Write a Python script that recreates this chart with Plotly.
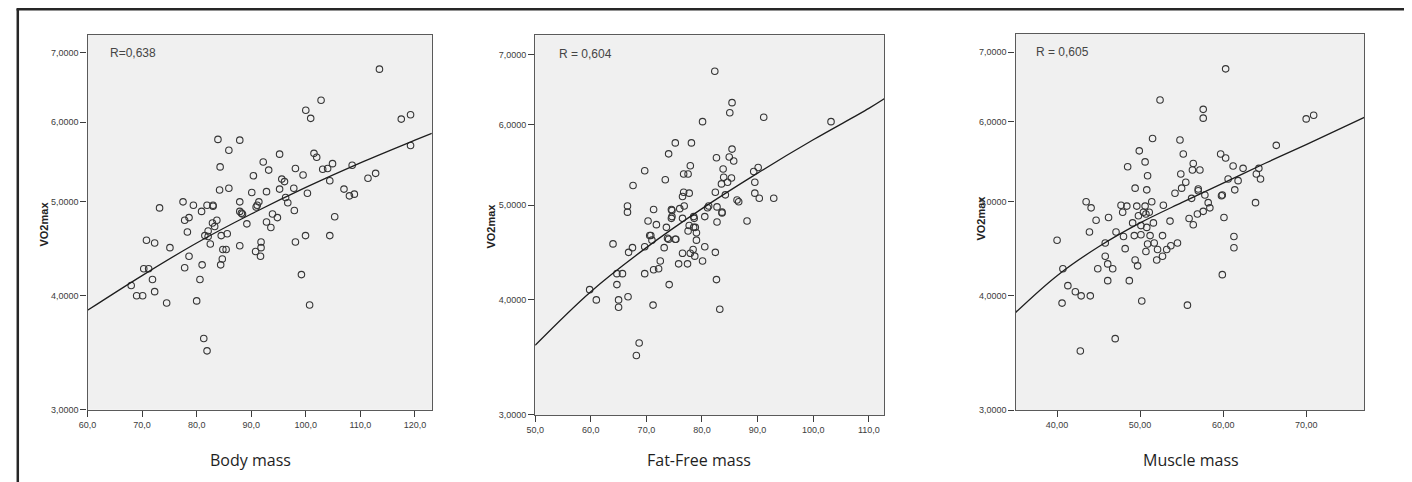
import math
import plotly.graph_objects as go

# ---------------- data ----------------
body_mass = [68.0, 69.0, 70.1, 70.3, 71.2, 70.8, 71.9, 72.3, 72.3, 73.2,
             74.5, 75.1, 77.5, 77.8, 77.8, 78.6, 78.3, 78.6, 79.4, 80.0,
             80.6, 80.9, 81.0, 81.3, 81.9, 81.5, 81.9, 82.1, 82.1, 82.5,
             83.0, 83.0, 82.9, 83.3, 83.7, 83.9, 84.3, 84.2, 84.4, 84.5,
             84.7, 85.4, 84.8, 85.6, 85.9, 85.9, 87.9, 87.9, 87.9, 88.2,
             88.4, 87.9, 89.2, 90.4, 90.1, 90.8, 90.9, 91.1, 91.4, 91.8,
             91.8, 91.7, 92.2, 92.8, 93.2, 92.8, 93.6, 93.9, 94.8, 95.2,
             95.2, 95.6, 96.1, 96.3, 96.7, 97.8, 97.9, 98.1, 98.1, 99.2,
             99.5, 100.0, 99.95, 100.3, 100.7, 100.9, 101.5, 102.0, 102.8, 103.1,
             104.0, 104.4, 104.4, 104.9, 105.3, 107.0, 108.0, 108.5, 108.9, 111.4,
             112.8, 113.5, 117.5, 119.2, 119.2]
vo2_body = [4.10, 4.00, 4.00, 4.27, 4.27, 4.57, 4.16, 4.04, 4.54, 4.93,
            3.93, 4.49, 5.00, 4.28, 4.79, 4.82, 4.66, 4.40, 4.96, 3.95,
            4.16, 4.89, 4.31, 3.60, 3.49, 4.62, 4.96, 4.67, 4.61, 4.53,
            4.96, 4.95, 4.76, 4.72, 4.79, 5.77, 5.42, 5.14, 4.31, 4.62,
            4.37, 4.47, 4.47, 4.64, 5.63, 5.16, 5.76, 5.00, 4.89, 4.87,
            4.86, 4.51, 4.75, 5.31, 5.11, 4.45, 4.94, 4.96, 5.00, 4.55,
            4.49, 4.40, 5.48, 4.77, 5.38, 5.12, 4.71, 4.86, 4.82, 5.58,
            5.15, 5.27, 5.24, 5.05, 4.99, 5.16, 4.90, 4.55, 5.40, 4.21,
            5.32, 6.16, 4.62, 5.10, 3.91, 6.05, 5.59, 5.54, 6.30, 5.39,
            5.40, 5.25, 4.62, 5.46, 4.83, 5.15, 5.07, 5.44, 5.09, 5.28,
            5.34, 6.75, 6.04, 6.10, 5.69]

fat_free_mass = [59.8, 61.0, 64.0, 64.7, 65.7, 64.7, 65.0, 65.0, 66.6, 66.6,
                 66.7, 66.8, 67.5, 67.6, 68.2, 68.7, 69.7, 69.7, 69.7, 70.3,
                 70.6, 70.8, 71.0, 71.2, 71.3, 71.3, 71.8, 72.2, 72.5, 73.2,
                 73.4, 73.6, 73.8, 74.0, 74.1, 74.0, 74.5, 74.6, 74.5, 74.6,
                 75.2, 75.2, 75.3, 75.8, 76.0, 76.5, 76.5, 76.5, 76.7, 76.7,
                 76.8, 77.5, 77.4, 77.5, 77.7, 77.7, 77.9, 78.1, 77.9, 78.5,
                 78.5, 78.6, 78.7, 78.8, 79.0, 79.0, 78.4, 80.1, 80.1, 80.5,
                 80.5, 81.0, 81.2, 82.3, 82.4, 82.4, 82.6, 82.6, 82.7, 82.7,
                 83.2, 83.6, 83.6, 83.5, 83.8, 83.9, 84.2, 84.6, 85.0, 84.9,
                 85.4, 85.4, 85.3, 85.7, 86.3, 86.6, 88.1, 89.3, 89.5, 89.5,
                 90.1, 90.3, 91.1, 92.9, 103.2]
vo2_ffm = [4.10, 4.00, 4.57, 4.26, 4.26, 4.15, 4.00, 3.93, 4.99, 4.92,
           4.03, 4.48, 4.53, 5.23, 3.49, 3.60, 5.41, 4.54, 4.26, 4.82,
           4.66, 4.66, 4.61, 3.95, 4.95, 4.30, 4.78, 4.31, 4.39, 4.53,
           5.30, 4.75, 4.63, 5.62, 4.15, 4.62, 4.95, 4.87, 4.85, 4.94,
           5.76, 4.62, 4.62, 4.36, 4.96, 4.47, 4.85, 5.10, 5.15, 5.37,
           4.99, 5.37, 4.36, 4.71, 5.14, 4.77, 5.47, 5.76, 4.47, 4.87,
           4.75, 4.85, 4.44, 4.75, 4.69, 4.61, 4.51, 6.04, 4.39, 4.54,
           4.87, 4.97, 4.99, 6.75, 5.15, 4.48, 5.57, 4.20, 4.98, 4.81,
           3.91, 4.91, 4.92, 5.25, 5.43, 5.33, 5.12, 5.27, 6.16, 5.58,
           5.68, 6.30, 5.32, 5.53, 5.06, 5.04, 4.82, 5.40, 5.27, 5.14,
           5.45, 5.08, 6.10, 5.08, 6.04]

muscle_mass = [40.0, 40.6, 40.7, 41.3, 42.2, 42.9, 42.8, 43.5, 43.9, 44.0,
               44.1, 44.7, 44.9, 45.8, 45.8, 46.1, 46.1, 46.2, 46.7, 47.0,
               47.1, 47.7, 47.9, 48.0, 48.2, 48.4, 48.5, 48.7, 49.1, 49.4,
               49.4, 49.3, 49.6, 49.7, 49.8, 49.9, 50.1, 50.1, 50.2, 50.4,
               50.6, 50.6, 50.7, 50.7, 50.8, 50.8, 50.9, 50.9, 51.1, 51.2,
               51.4, 51.5, 51.6, 51.7, 52.0, 52.1, 52.4, 52.7, 52.7, 52.8,
               53.2, 53.6, 53.7, 54.2, 54.5, 54.8, 54.9, 55.0, 55.2, 55.5,
               55.7, 55.9, 56.2, 56.3, 56.4, 56.4, 56.9, 57.0, 57.0, 57.2,
               57.6, 57.6, 57.6, 57.8, 58.2, 58.4, 59.7, 59.9, 59.8, 59.9,
               60.1, 60.3, 60.3, 60.6, 61.2, 61.3, 61.3, 61.4, 61.8, 62.4,
               63.9, 64.0, 64.3, 64.5, 66.4, 70.0, 70.9]
vo2_muscle = [4.57, 3.93, 4.27, 4.10, 4.04, 4.00, 3.49, 5.00, 4.66, 4.00,
              4.93, 4.79, 4.27, 4.54, 4.40, 4.32, 4.15, 4.82, 4.27, 3.60,
              4.66, 4.96, 4.88, 4.61, 4.48, 4.95, 5.42, 4.15, 4.76, 4.36,
              5.16, 4.62, 4.95, 4.30, 4.84, 5.62, 4.63, 4.73, 3.95, 4.88,
              5.48, 4.95, 4.45, 4.86, 5.14, 4.71, 5.31, 4.53, 4.88, 4.62,
              5.00, 5.78, 4.76, 4.54, 4.36, 4.47, 6.30, 4.62, 4.40, 4.96,
              4.47, 4.78, 4.51, 5.10, 4.54, 5.76, 5.33, 5.16, 5.58, 5.23,
              3.91, 4.81, 5.04, 5.38, 4.74, 5.46, 4.86, 5.15, 5.13, 5.38,
              6.17, 6.05, 4.89, 5.08, 4.99, 4.93, 5.58, 4.21, 5.07, 5.08,
              4.82, 6.75, 5.53, 5.27, 5.43, 4.61, 4.49, 5.14, 5.25, 5.40,
              4.99, 5.33, 5.40, 5.27, 5.69, 6.04, 6.09]

# fitted curves
fit_body_x = [60, 70, 80, 90, 100, 110, 120, 123.1]
fit_body_y = [3.86, 4.20, 4.54, 4.86, 5.17, 5.47, 5.76, 5.85]
fit_ffm_x = [50, 60, 70, 80, 90, 100, 110, 113.1]
fit_ffm_y = [3.58, 4.08, 4.53, 4.96, 5.38, 5.80, 6.22, 6.37]
fit_muscle_x = [35, 40, 45, 50, 55, 60, 65, 70, 77.0]
fit_muscle_y = [3.84, 4.20, 4.50, 4.76, 4.99, 5.22, 5.46, 5.70, 6.06]

r_labels = ["R=0,638", "R = 0,604", "R = 0,605"]
x_titles = ["Body mass", "Fat-Free mass", "Muscle mass"]
y_title = "VO2max"

y_ticks = [3, 4, 5, 6, 7]
y_ticktext = ["3,0000", "4,0000", "5,0000", "6,0000", "7,0000"]
x_ticks_body = [60, 70, 80, 90, 100, 110, 120]
x_ticktext_body = ["60,0", "70,0", "80,0", "90,0", "100,0", "110,0", "120,0"]
x_ticks_ffm = [50, 60, 70, 80, 90, 100, 110]
x_ticktext_ffm = ["50,0", "60,0", "70,0", "80,0", "90,0", "100,0", "110,0"]
x_ticks_muscle = [40, 50, 60, 70]
x_ticktext_muscle = ["40,00", "50,00", "60,00", "70,00"]

# the original y axis is a compressed (log-like) scale: log(y + 1.2)
Y_SHIFT = 1.2

# ---------------- layout helpers ----------------
# the page body has an 8px margin, so figure pixel = screen pixel - 8
OFF = 8
W, H = 1404, 474
def px(x):
    return (x - OFF) / W
def py(y):
    return 1 - (y - OFF) / H
def lg(v):
    return math.log10(v + Y_SHIFT)

panels = [
    dict(x=body_mass, y=vo2_body, fx=fit_body_x, fy=fit_body_y,
         xd=(79, 425.5), yd=(35, 414), xr=(60, 123.1), ytop=7.28,
         xt=x_ticks_body, xtt=x_ticktext_body,
         rpos=(100, 53.5), ytpos=(35, 226), xtpos=(243, 465)),
    dict(x=fat_free_mass, y=vo2_ffm, fx=fit_ffm_x, fy=fit_ffm_y,
         xd=(529.5, 881), yd=(35.5, 419.3), xr=(50, 112.8), ytop=7.30,
         xt=x_ticks_ffm, xtt=x_ticktext_ffm,
         rpos=(551, 54.5), ytpos=(485, 228), xtpos=(694, 465)),
    dict(x=muscle_mass, y=vo2_muscle, fx=fit_muscle_x, fy=fit_muscle_y,
         xd=(1013, 1364), yd=(34, 414.3), xr=(35.0, 77.0), ytop=7.29,
         xt=x_ticks_muscle, xtt=x_ticktext_muscle,
         rpos=(1032, 52.5), ytpos=(978, 220), xtpos=(1190, 465)),
]

fig = go.Figure()
annotations = []
tick_font = dict(family="Arial, Liberation Sans, sans-serif", size=9, color="#3c3c3c")

for i, p in enumerate(panels, start=1):
    xa = "x" if i == 1 else f"x{i}"
    ya = "y" if i == 1 else f"y{i}"
    fig.add_trace(go.Scatter(
        x=p["x"], y=[v + Y_SHIFT for v in p["y"]], mode="markers",
        xaxis=xa, yaxis=ya, showlegend=False, hoverinfo="skip",
        marker=dict(symbol="circle-open", size=6.5, color="#363636",
                    line=dict(width=1.1)),
    ))
    fig.add_trace(go.Scatter(
        x=p["fx"], y=[v + Y_SHIFT for v in p["fy"]], mode="lines",
        xaxis=xa, yaxis=ya, showlegend=False, hoverinfo="skip",
        line=dict(color="#1e1e1e", width=1.3, shape="spline", smoothing=1.0),
    ))
    common = dict(showgrid=False, zeroline=False, showline=True, mirror=True,
                  linecolor="#5a5a5a", linewidth=1.3, ticks="outside",
                  ticklen=6, tickwidth=1, tickcolor="#3c3c3c",
                  tickfont=tick_font)
    fig.update_layout(**{
        ("xaxis" if i == 1 else f"xaxis{i}"): dict(
            domain=[px(p["xd"][0]), px(p["xd"][1])],
            range=list(p["xr"]), anchor=ya,
            tickmode="array", tickvals=p["xt"], ticktext=p["xtt"],
            **common),
        ("yaxis" if i == 1 else f"yaxis{i}"): dict(
            domain=[py(p["yd"][1]), py(p["yd"][0])],
            type="log", range=[lg(3), lg(p["ytop"])], anchor=xa,
            tickmode="array", tickvals=[t + Y_SHIFT for t in y_ticks],
            ticktext=y_ticktext, **common),
    })
    annotations.append(dict(
        x=px(p["rpos"][0]), y=py(p["rpos"][1]), xref="paper", yref="paper",
        text=r_labels[i - 1], showarrow=False, xanchor="left", yanchor="middle",
        font=dict(family="Arial, Liberation Sans, sans-serif", size=12, color="#454545")))
    annotations.append(dict(
        x=px(p["ytpos"][0]), y=py(p["ytpos"][1]), xref="paper", yref="paper",
        text=f"<b>{y_title}</b>", showarrow=False, textangle=-90,
        xanchor="center", yanchor="middle",
        font=dict(family="Arial, Liberation Sans, sans-serif", size=11, color="#222222")))
    annotations.append(dict(
        x=px(p["xtpos"][0]), y=py(p["xtpos"][1]), xref="paper", yref="paper",
        text=x_titles[i - 1], showarrow=False, xanchor="center", yanchor="middle",
        font=dict(family="Open Sans, Noto Sans, sans-serif", size=16, color="#1e1e1e")))

frame = dict(color="#262626", width=2.5)
shapes = [
    dict(type="line", xref="paper", yref="paper", x0=px(7.5), x1=px(1407.5), y0=py(9.3), y1=py(9.3), line=frame),
    dict(type="line", xref="paper", yref="paper", x0=px(8.8), x1=px(8.8), y0=py(9), y1=py(490), line=frame),
    dict(type="line", xref="paper", yref="paper", x0=px(1406.5), x1=px(1406.5), y0=py(9), y1=py(490), line=frame),
]

fig.update_layout(
    width=W, height=H, margin=dict(l=0, r=0, t=0, b=0),
    paper_bgcolor="white", plot_bgcolor="#f0f0f0",
    annotations=annotations, shapes=shapes,
)

fig.write_html("out.html")
